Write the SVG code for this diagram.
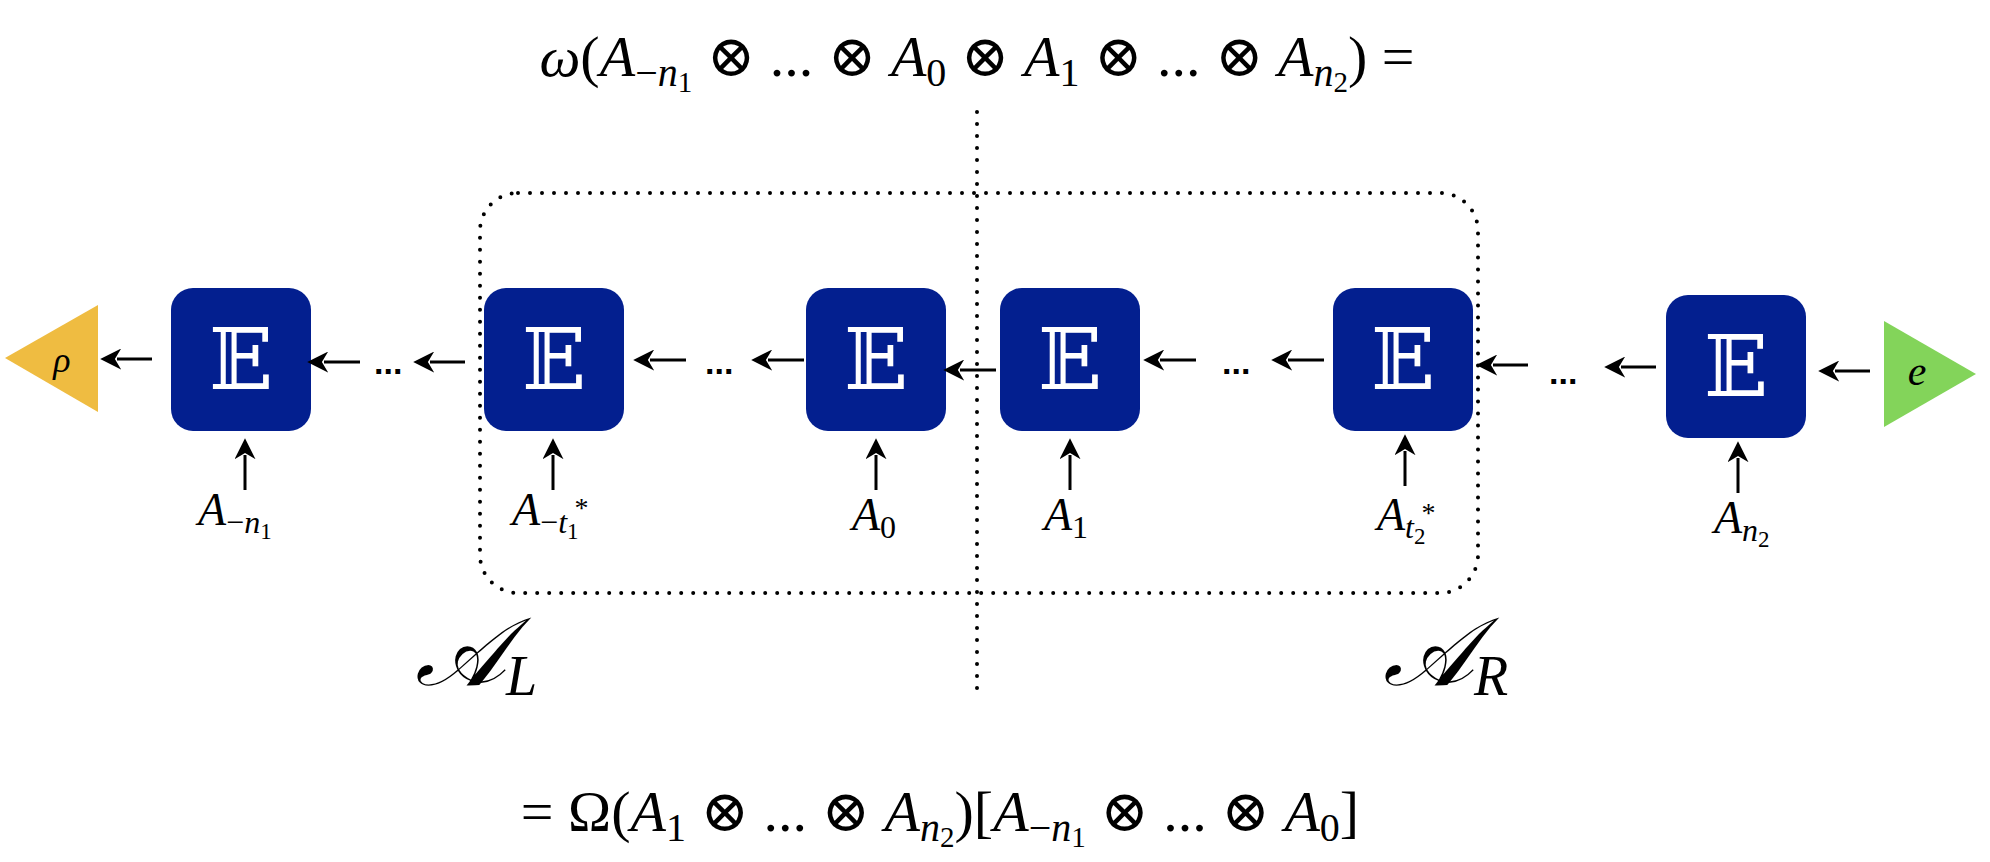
<svg xmlns="http://www.w3.org/2000/svg" width="1990" height="862" viewBox="0 0 1990 862">
<style>
.box{fill:#031f8f}
.E{font-family:"DejaVu Serif","DejaVu Sans",serif;font-size:84px;fill:#fff;text-anchor:middle}
.m{font-family:"Liberation Serif","Times New Roman","DejaVu Serif",serif;fill:#000}
.i{font-style:italic}
.op{font-family:"DejaVu Serif","Liberation Serif",serif;font-style:normal;font-weight:normal}
.arr{stroke:#000;stroke-width:3;fill:none;marker-end:url(#ah)}
.dot{stroke:#000;stroke-width:4;stroke-linecap:round;stroke-dasharray:0 12;fill:none}
.ell{font-family:"Liberation Sans",sans-serif;font-weight:bold;font-size:34px}
</style>
<defs>
<marker id="ah" viewBox="0 0 10 10" refX="2" refY="5" markerWidth="7" markerHeight="7" orient="auto" markerUnits="strokeWidth">
<path d="M0,5 L10,0 L7,5 L10,10 Z" fill="#000" transform="rotate(180 5 5)"/>
</marker>
</defs>
<text class="m" x="977" y="76" font-size="58" text-anchor="middle"><tspan class="i">ω</tspan>(<tspan class="i">A</tspan><tspan font-size="40" dy="10">−<tspan class="i">n</tspan><tspan font-size="29" dy="6">1</tspan></tspan><tspan dy="-16"> <tspan class="op">⊗</tspan> ... <tspan class="op">⊗</tspan> </tspan><tspan class="i">A</tspan><tspan font-size="40" dy="10">0</tspan><tspan dy="-10"> <tspan class="op">⊗</tspan> </tspan><tspan class="i">A</tspan><tspan font-size="40" dy="10">1</tspan><tspan dy="-10"> <tspan class="op">⊗</tspan> ... <tspan class="op">⊗</tspan> </tspan><tspan class="i">A</tspan><tspan font-size="40" dy="10" class="i">n</tspan><tspan font-size="29" dy="6">2</tspan><tspan dy="-16">) =</tspan></text>
<text class="m" x="940" y="831" font-size="58" text-anchor="middle">= Ω(<tspan class="i">A</tspan><tspan font-size="40" dy="10">1</tspan><tspan dy="-10"> <tspan class="op">⊗</tspan> ... <tspan class="op">⊗</tspan> </tspan><tspan class="i">A</tspan><tspan font-size="40" dy="10" class="i">n</tspan><tspan font-size="29" dy="6">2</tspan><tspan dy="-16">)[</tspan><tspan class="i">A</tspan><tspan font-size="40" dy="10">−<tspan class="i">n</tspan><tspan font-size="29" dy="6">1</tspan></tspan><tspan dy="-16"> <tspan class="op">⊗</tspan> ... <tspan class="op">⊗</tspan> </tspan><tspan class="i">A</tspan><tspan font-size="40" dy="10">0</tspan><tspan dy="-10">]</tspan></text>
<g id="guides">
<line class="dot" x1="977" y1="112" x2="977" y2="695"/>
<rect class="dot" x="480" y="193" width="998" height="400" rx="38"/>
</g>
<g id="rho"><polygon points="5,358 98,305 98,412" fill="#efbc41"/><text class="m i" x="62" y="372" font-size="36" text-anchor="middle">ρ</text></g>
<g id="e"><polygon points="1884,321 1976,374 1884,427" fill="#83d45a"/><text class="m i" x="1917" y="385" font-size="42" text-anchor="middle">e</text></g>
<g id="E1"><rect class="box" x="171" y="288" width="140" height="143" rx="22"/><text class="E" x="241" y="389">𝔼</text></g>
<g id="E2"><rect class="box" x="484" y="288" width="140" height="143" rx="22"/><text class="E" x="554" y="389">𝔼</text></g>
<g id="E3"><rect class="box" x="806" y="288" width="140" height="143" rx="22"/><text class="E" x="876" y="389">𝔼</text></g>
<g id="E4"><rect class="box" x="1000" y="288" width="140" height="143" rx="22"/><text class="E" x="1070" y="389">𝔼</text></g>
<g id="E5"><rect class="box" x="1333" y="288" width="140" height="143" rx="22"/><text class="E" x="1403" y="389">𝔼</text></g>
<g id="E6"><rect class="box" x="1666" y="295" width="140" height="143" rx="22"/><text class="E" x="1736" y="396">𝔼</text></g>
<g id="labels" class="m" font-size="46">
<text x="198" y="525"><tspan class="i">A</tspan><tspan font-size="32" dy="8">−<tspan class="i">n</tspan><tspan font-size="23" dy="6">1</tspan></tspan></text>
<text x="512" y="525"><tspan class="i">A</tspan><tspan font-size="32" dy="8">−<tspan class="i">t</tspan><tspan font-size="23" dy="6">1</tspan><tspan font-size="28" dy="-22" dx="-4">*</tspan></tspan></text>
<text x="852" y="530"><tspan class="i">A</tspan><tspan font-size="32" dy="8">0</tspan></text>
<text x="1044" y="530"><tspan class="i">A</tspan><tspan font-size="32" dy="8">1</tspan></text>
<text x="1377" y="530"><tspan class="i">A</tspan><tspan font-size="32" dy="8" class="i">t</tspan><tspan font-size="23" dy="6">2</tspan><tspan font-size="28" dy="-22" dx="-4">*</tspan></text>
<text x="1714" y="533"><tspan class="i">A</tspan><tspan font-size="32" dy="8" class="i">n</tspan><tspan font-size="23" dy="6">2</tspan></text>
<text x="415" y="685" font-size="96" class="i">𝒜<tspan font-size="56" dy="10">L</tspan></text>
<text x="1383" y="685" font-size="96" class="i">𝒜<tspan font-size="56" dy="10">R</tspan></text>
</g>
<g id="connectors">
<line class="arr" x1="152" y1="359" x2="117" y2="359"/>
<line class="arr" x1="360" y1="362" x2="324" y2="362"/>
<text class="ell" x="374" y="374">...</text>
<line class="arr" x1="465" y1="362" x2="430" y2="362"/>
<line class="arr" x1="686" y1="360" x2="650" y2="360"/>
<text class="ell" x="705" y="374">...</text>
<line class="arr" x1="804" y1="360" x2="768" y2="360"/>
<line class="arr" x1="996" y1="370" x2="960" y2="370"/>
<line class="arr" x1="1196" y1="360" x2="1160" y2="360"/>
<text class="ell" x="1222" y="374">...</text>
<line class="arr" x1="1324" y1="360" x2="1288" y2="360"/>
<line class="arr" x1="1528" y1="365" x2="1493" y2="365"/>
<text class="ell" x="1549" y="384">...</text>
<line class="arr" x1="1656" y1="367" x2="1621" y2="367"/>
<line class="arr" x1="1870" y1="371" x2="1835" y2="371"/>
<line class="arr" x1="245" y1="490" x2="245" y2="455"/>
<line class="arr" x1="553" y1="490" x2="553" y2="455"/>
<line class="arr" x1="876" y1="490" x2="876" y2="455"/>
<line class="arr" x1="1070" y1="490" x2="1070" y2="455"/>
<line class="arr" x1="1405" y1="486" x2="1405" y2="451"/>
<line class="arr" x1="1738" y1="493" x2="1738" y2="458"/>
</g>
</svg>
